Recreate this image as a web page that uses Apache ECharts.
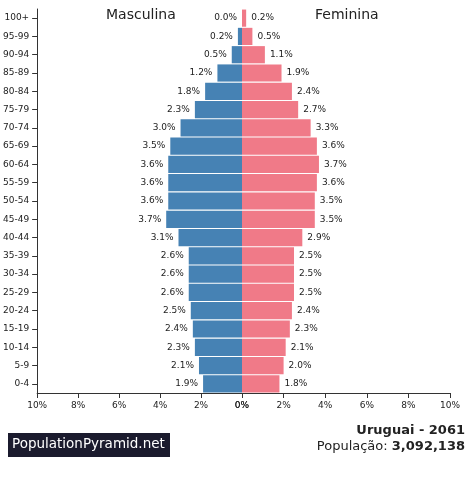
<!DOCTYPE html>
<html><head><meta charset="utf-8">
<script src="https://cdn.jsdelivr.net/npm/echarts@6/dist/echarts.min.js"></script>
<style>html,body{margin:0;padding:0;background:#fff}#c{width:474px;height:478px}</style>
</head><body><div id="c"></div>
<script>
const ages = ['0-4','5-9','10-14','15-19','20-24','25-29','30-34','35-39','40-44','45-49','50-54','55-59','60-64','65-69','70-74','75-79','80-84','85-89','90-94','95-99','100+'];
const male = [1.9,2.1,2.3,2.4,2.5,2.6,2.6,2.6,3.1,3.7,3.6,3.6,3.6,3.5,3.0,2.3,1.8,1.2,0.5,0.2,0.0];
const female = [1.8,2.0,2.1,2.3,2.4,2.5,2.5,2.5,2.9,3.5,3.5,3.6,3.7,3.6,3.3,2.7,2.4,1.9,1.1,0.5,0.2];
const font = 'DejaVu Sans';
const chart = echarts.init(document.getElementById('c'));
const xAx = (gi, inv) => ({gridIndex:gi, type:'value', min:0, max:10, interval:2, inverse:inv,
  axisLine:{show:true,lineStyle:{color:'#333'}}, axisTick:{show:true,lineStyle:{color:'#333'}},
  splitLine:{show:false}, axisLabel:{formatter:'{value}%', fontFamily:font, fontSize:9, color:'#222'}});
const lab = {show:true, fontFamily:font, fontSize:9, color:'#222', formatter:p=>p.value.toFixed(1)+'%'};
chart.setOption({
  animation:false,
  grid:[{left:36,right:232,top:9,bottom:85},{left:242,right:24,top:9,bottom:85}],
  xAxis:[xAx(0,true), xAx(1,false)],
  yAxis:[{gridIndex:0,type:'category',data:ages,position:'left',axisLine:{show:true,onZero:false,lineStyle:{color:'#333'}},axisTick:{show:true,alignWithLabel:true,lineStyle:{color:'#333'}},
          axisLabel:{fontFamily:font,fontSize:9,color:'#222'}},
         {gridIndex:1,type:'category',data:ages,axisLine:{show:false},axisTick:{show:false},axisLabel:{show:false}}],
  series:[
    {type:'bar',xAxisIndex:0,yAxisIndex:0,data:male,barCategoryGap:'6%',itemStyle:{color:'#4682B4'},label:Object.assign({position:'left'},lab)},
    {type:'bar',xAxisIndex:1,yAxisIndex:1,data:female,barCategoryGap:'6%',itemStyle:{color:'#F07A88'},label:Object.assign({position:'right'},lab)}
  ],
  graphic:[
    {type:'text',left:106,top:8,style:{text:'Masculina',font:'14px "DejaVu Sans"',fill:'#222'}},
    {type:'text',left:315,top:8,style:{text:'Feminina',font:'14px "DejaVu Sans"',fill:'#222'}},
    {type:'rect',left:8,top:433,shape:{width:162,height:24},style:{fill:'#1b1b2e'}},
    {type:'text',left:12,top:437,style:{text:'PopulationPyramid.net',font:'13.5px "DejaVu Sans"',fill:'#fff'}},
    {type:'text',right:9,top:424,style:{text:'Uruguai - 2061',font:'bold 13px "DejaVu Sans"',fill:'#222'}},
    {type:'text',right:9,top:440,style:{rich:{a:{font:'13px "DejaVu Sans"',fill:'#222'},b:{font:'bold 13px "DejaVu Sans"',fill:'#222'}},text:'{a|População: }{b|3,092,138}'}}
  ]
});
</script></body></html>
